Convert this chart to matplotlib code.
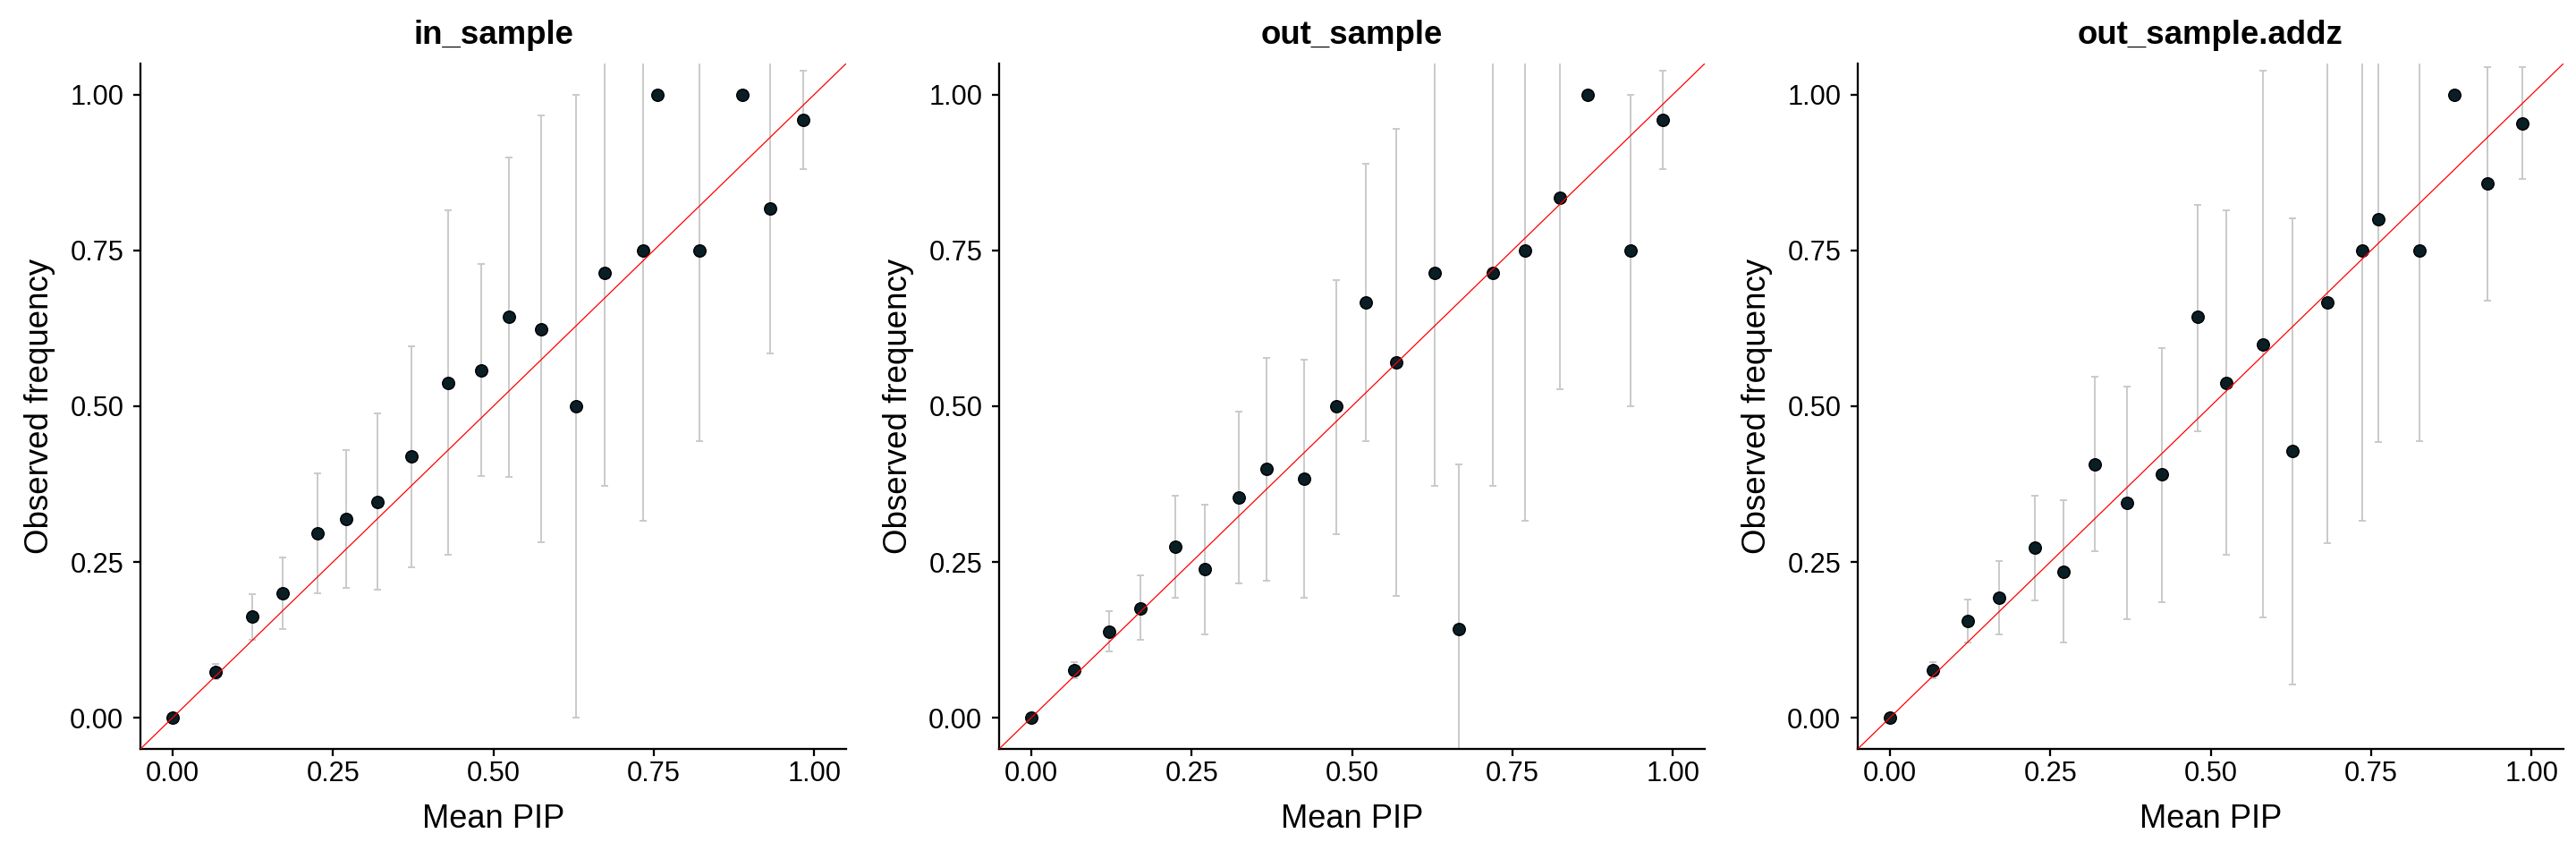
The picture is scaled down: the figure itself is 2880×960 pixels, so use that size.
import matplotlib
matplotlib.use("Agg")
import matplotlib.pyplot as plt
import numpy as np

plt.rcParams['font.family'] = ['Liberation Sans', 'DejaVu Sans']

titles = ["in_sample", "out_sample", "out_sample.addz"]
x_ticks = [0.00, 0.25, 0.50, 0.75, 1.00]
y_ticks = [0.00, 0.25, 0.50, 0.75, 1.00]
tick_labels = ["0.00", "0.25", "0.50", "0.75", "1.00"]

# in_sample
in_x = [0.000, 0.067, 0.124, 0.172, 0.226, 0.271, 0.320, 0.373, 0.429, 0.481,
        0.525, 0.575, 0.629, 0.673, 0.733, 0.756, 0.821, 0.888, 0.932, 0.983]
in_y = [0.000, 0.074, 0.162, 0.200, 0.296, 0.319, 0.347, 0.419, 0.538, 0.558,
        0.643, 0.624, 0.500, 0.714, 0.750, 1.000, 0.750, 1.000, 0.818, 0.960]
in_lo = [0.000, 0.062, 0.125, 0.142, 0.200, 0.209, 0.206, 0.241, 0.261, 0.388,
         0.386, 0.282, 0.000, 0.372, 0.316, 1.000, 0.444, 1.000, 0.585, 0.881]
in_hi = [0.000, 0.086, 0.199, 0.258, 0.393, 0.429, 0.488, 0.596, 0.814, 0.729,
         0.899, 0.967, 1.000, 1.056, 1.184, 1.000, 1.056, 1.000, 1.051, 1.039]

# out_sample
out_x = [0.000, 0.067, 0.122, 0.170, 0.225, 0.271, 0.323, 0.367, 0.425, 0.476,
         0.521, 0.569, 0.629, 0.666, 0.720, 0.770, 0.824, 0.867, 0.934, 0.985]
out_y = [0.000, 0.077, 0.138, 0.176, 0.274, 0.238, 0.353, 0.399, 0.384, 0.500,
         0.666, 0.570, 0.714, 0.142, 0.714, 0.750, 0.834, 1.000, 0.750, 0.960]
out_lo = [0.000, 0.063, 0.106, 0.125, 0.193, 0.134, 0.215, 0.220, 0.193, 0.295,
          0.444, 0.196, 0.372, -0.122, 0.372, 0.316, 0.528, 1.000, 0.500, 0.881]
out_hi = [0.000, 0.089, 0.171, 0.228, 0.356, 0.342, 0.492, 0.578, 0.574, 0.703,
          0.889, 0.945, 1.056, 0.406, 1.056, 1.184, 1.140, 1.000, 1.000, 1.039]

# out_sample.addz
addz_x = [0.000, 0.067, 0.122, 0.170, 0.226, 0.270, 0.319, 0.369, 0.424, 0.480,
          0.524, 0.582, 0.627, 0.682, 0.737, 0.762, 0.826, 0.880, 0.931, 0.986]
addz_y = [0.000, 0.077, 0.155, 0.193, 0.273, 0.235, 0.407, 0.345, 0.391, 0.643,
          0.538, 0.599, 0.428, 0.666, 0.750, 0.800, 0.750, 1.000, 0.857, 0.954]
addz_lo = [0.000, 0.063, 0.121, 0.134, 0.189, 0.121, 0.268, 0.158, 0.186, 0.460,
           0.261, 0.161, 0.054, 0.281, 0.316, 0.442, 0.444, 1.000, 0.670, 0.865]
addz_hi = [0.000, 0.089, 0.190, 0.252, 0.357, 0.349, 0.548, 0.532, 0.594, 0.823,
           0.814, 1.039, 0.802, 1.051, 1.184, 1.158, 1.056, 1.000, 1.044, 1.044]

panels = [
    (in_x, in_y, in_lo, in_hi),
    (out_x, out_y, out_lo, out_hi),
    (addz_x, addz_y, addz_lo, addz_hi),
]

fig = plt.figure(figsize=(9.6, 3.2), dpi=300)
lefts = [157 / 2880, 1117 / 2880, 2077 / 2880]
width = 789 / 2880
bottom = 1 - 837 / 960
height = 766 / 960

for left, title, (x, y, lo, hi) in zip(lefts, titles, panels):
    ax = fig.add_axes([left, bottom, width, height])
    x = np.array(x); y = np.array(y); lo = np.array(lo); hi = np.array(hi)
    yerr = np.vstack([y - lo, hi - y])
    ax.errorbar(x, y, yerr=yerr, fmt='none', ecolor='#c8c8c8', elinewidth=0.45,
                capsize=0.9, capthick=0.45, zorder=2)
    ax.scatter(x, y, s=10.5, facecolor='#0a1e26', edgecolor='black', linewidths=0.35, zorder=3)
    ax.axline((0, 0), slope=1, color='#ff0000', linewidth=0.3, zorder=4)
    ax.set_xlim(-0.05, 1.05)
    ax.set_ylim(-0.05, 1.05)
    ax.set_xticks(x_ticks)
    ax.set_xticklabels(tick_labels)
    ax.set_yticks(y_ticks)
    ax.set_yticklabels(tick_labels)
    for s in ['top', 'right']:
        ax.spines[s].set_visible(False)
    for s in ['left', 'bottom']:
        ax.spines[s].set_linewidth(0.55)
        ax.spines[s].set_color('black')
    ax.tick_params(axis='both', length=1.9, width=0.55, color='black',
                   labelsize=7.4, labelcolor='black')
    ax.tick_params(axis='x', pad=1.3)
    ax.tick_params(axis='y', pad=2.6)
    ax.set_xlabel("Mean PIP", fontsize=8.7)
    ax.set_ylabel("Observed frequency", fontsize=8.8)
    ax.xaxis.set_label_coords(0.5, -0.080)
    ax.yaxis.set_label_coords(-0.120, 0.5)
    ax.set_title(title, fontsize=8.8, fontweight='bold', y=1.0287, pad=0)

fig.savefig("out.png", dpi=300, facecolor='white')
